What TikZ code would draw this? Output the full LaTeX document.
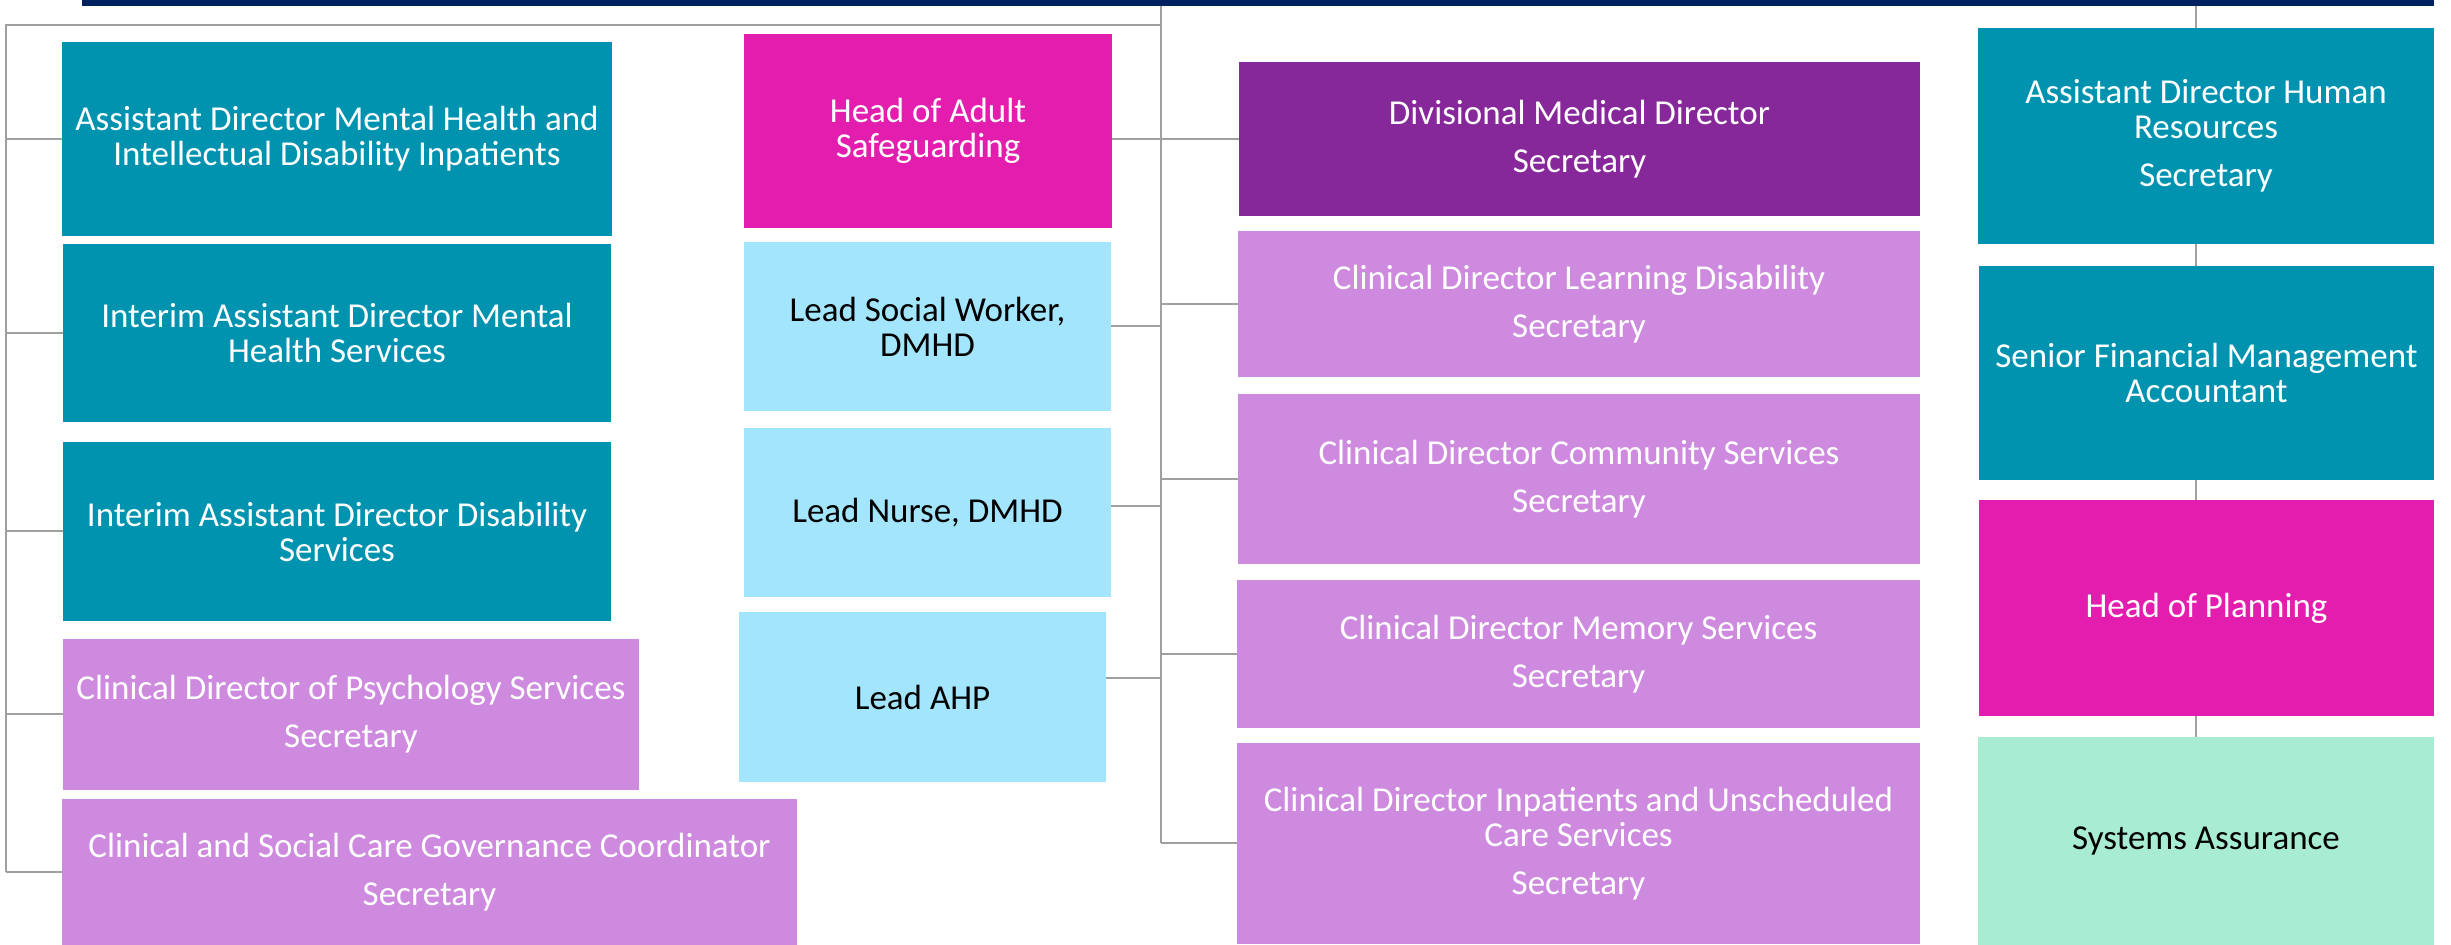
\documentclass[tikz,border=0pt]{standalone}
\usepackage{fontspec}
\setmainfont{Carlito}
\definecolor{navy}{RGB}{0,32,96}
\definecolor{teal}{RGB}{0,147,176}
\definecolor{magenta}{RGB}{227,30,175}
\definecolor{purple}{RGB}{135,40,154}
\definecolor{lilac}{RGB}{206,138,222}
\definecolor{lightblue}{RGB}{163,229,253}
\definecolor{mint}{RGB}{168,236,211}
\definecolor{linegray}{RGB}{160,160,160}
\newcommand{\orgbox}[7]{\node[#6, minimum width={(#4-#2)*0.3pt}, minimum height={(#5-#3)*0.3pt}] (#1) at ({(#2+#4)/2},{(#3+#5)/2}) {#7};}
\tikzset{
  base/.style={inner sep=0pt, outer sep=0pt, align=center, font=\fontsize{10.5}{10.5}\selectfont},
  tealbox/.style={base, fill=teal, text=white},
  magbox/.style={base, fill=magenta, text=white},
  purpbox/.style={base, fill=purple, text=white},
  lilbox/.style={base, fill=lilac, text=white},
  bluebox/.style={base, fill=lightblue, text=black},
  mintbox/.style={base, fill=mint, text=black},
  conn/.style={draw=linegray, line width=0.6pt}
}
\begin{document}
\begin{tikzpicture}[x=0.3pt, y=-0.3pt]
\useasboundingbox (0,0) rectangle (2451,945);
% top bar
\node[fill=navy, inner sep=0pt, outer sep=0pt, minimum width={(2434-82)*0.3pt}, minimum height={6*0.3pt}] (top) at ({(82+2434)/2},3) {};
% column A
\orgbox{A1}{62}{42}{612}{236}{tealbox}{Assistant Director Mental Health and\\Intellectual Disability Inpatients}
\orgbox{A2}{63}{244}{611}{422}{tealbox}{Interim Assistant Director Mental\\Health Services}
\orgbox{A3}{63}{442}{611}{621}{tealbox}{Interim Assistant Director Disability\\Services}
\orgbox{A4}{63}{639}{639}{790}{lilbox}{Clinical Director of Psychology Services\\[4pt]Secretary}
\orgbox{A5}{62}{799}{797}{945}{lilbox}{Clinical and Social Care Governance Coordinator\\[4pt]Secretary}
% column B
\orgbox{B1}{744}{34}{1112}{228}{magbox}{Head of Adult\\Safeguarding}
\orgbox{B2}{744}{242}{1111}{411}{bluebox}{Lead Social Worker,\\DMHD}
\orgbox{B3}{744}{428}{1111}{597}{bluebox}{Lead Nurse, DMHD}
\orgbox{B4}{739}{612}{1106}{782}{bluebox}{Lead AHP}
% column D
\orgbox{D1}{1239}{62}{1920}{216}{purpbox}{Divisional Medical Director\\[4pt]Secretary}
\orgbox{D2}{1238}{231}{1920}{377}{lilbox}{Clinical Director Learning Disability\\[4pt]Secretary}
\orgbox{D3}{1238}{394}{1920}{564}{lilbox}{Clinical Director Community Services\\[4pt]Secretary}
\orgbox{D4}{1237}{580}{1920}{728}{lilbox}{Clinical Director Memory Services\\[4pt]Secretary}
\orgbox{D5}{1237}{743}{1920}{944}{lilbox}{Clinical Director Inpatients and Unscheduled\\Care Services\\[4pt]Secretary}
% column E
\orgbox{E1}{1978}{28}{2434}{244}{tealbox}{Assistant Director Human\\Resources\\[4pt]Secretary}
\orgbox{E2}{1979}{266}{2434}{480}{tealbox}{Senior Financial Management\\Accountant}
\orgbox{E3}{1979}{500}{2434}{716}{magbox}{Head of Planning}
\orgbox{E4}{1978}{737}{2434}{945}{mintbox}{Systems Assurance}
% trunk coordinates
\coordinate (C) at (1161,6);
\coordinate (H) at (1161,25);
\coordinate (L) at (6,25);
\coordinate (R) at (2196,6);
% left tree
\draw[conn] (C) -- (D5.west -| C);
\draw[conn] (H) -- (L) -- (A5.west -| L);
\draw[conn] (A1.west) -- (A1.west -| L);
\draw[conn] (A2.west) -- (A2.west -| L);
\draw[conn] (A3.west) -- (A3.west -| L);
\draw[conn] (A4.west) -- (A4.west -| L);
\draw[conn] (A5.west) -- (A5.west -| L);
% centre tree
\draw[conn] (D1.west) -- (D1.west -| B1.east);
\draw[conn] (B2.east) -- (B2.east -| C);
\draw[conn] ([yshift=2pt]B3.east) -- ([yshift=2pt]B3.east -| C);
\draw[conn] ([yshift=5.7pt]B4.east) -- ([yshift=5.7pt]B4.east -| C);
\draw[conn] (D2.west) -- (D2.west -| C);
\draw[conn] (D3.west) -- (D3.west -| C);
\draw[conn] (D4.west) -- (D4.west -| C);
\draw[conn] (D5.west) -- (D5.west -| C);
% right chain
\draw[conn] (R) -- (E1.north -| R);
\draw[conn] (E1.south -| R) -- (E2.north -| R);
\draw[conn] (E2.south -| R) -- (E3.north -| R);
\draw[conn] (E3.south -| R) -- (E4.north -| R);
\end{tikzpicture}
\end{document}
